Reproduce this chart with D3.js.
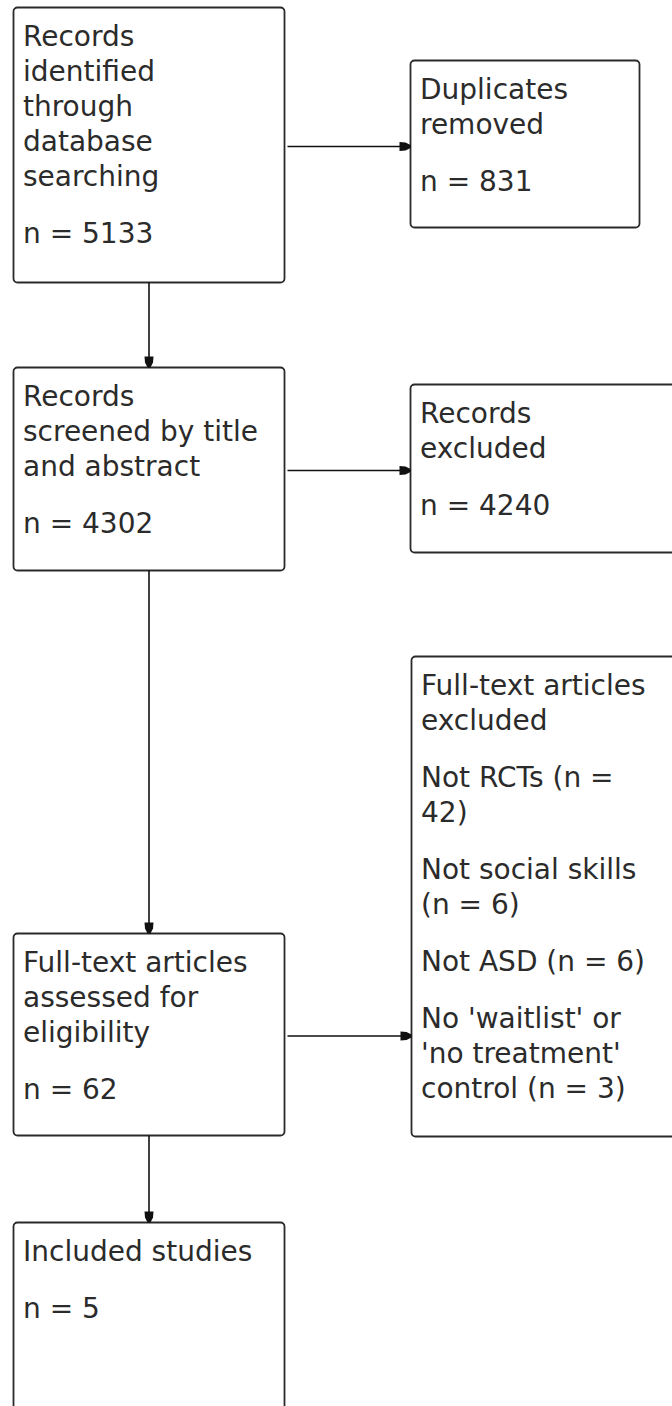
<!DOCTYPE html>
<html>
<head>
<meta charset="utf-8">
<script src="https://cdn.jsdelivr.net/npm/d3@7"></script>
<style>
  html, body { margin: 0; padding: 0; background: #fff; }
  svg { display: block; }
  text { font-family: "DejaVu Sans", Verdana, sans-serif; font-size: 28px; fill: #2b2b2b; }
</style>
</head>
<body>
<script>
// ---- data ----
const stageTitles = [
  "Records identified through database searching",
  "Records screened by title and abstract",
  "Full-text articles assessed for eligibility",
  "Included studies"
];
const stageCounts = [5133, 4302, 62, 5];
const removalTitles = ["Duplicates removed", "Records excluded", "Full-text articles excluded"];
const removalCounts = [831, 4240, null];
const exclusionReasons = ["Not RCTs", "Not social skills", "Not ASD", "No 'waitlist' or 'no treatment' control"];
const exclusionCounts = [42, 6, 6, 3];

// ---- layout ----
const W = 672, H = 1406;
const svg = d3.select("body").append("svg").attr("width", W).attr("height", H);
svg.append("rect").attr("width", W).attr("height", H).attr("fill", "#fff");

const mainX = [13, 284];
const mainY = [[7, 282], [367, 570], [933, 1135], [1222, 1425]];
const sideX0 = [410, 410, 411];
const sideX1 = [639, 700, 700];
const sideY = [[60, 227], [384, 552], [656, 1136]];

const lineStep = 35, paraStep = 57, firstBase = 39, padX = 9, wrapW = 242;

function paragraphsForStage(i) {
  return [stageTitles[i], "n = " + stageCounts[i]];
}
function paragraphsForSide(i) {
  if (removalCounts[i] != null) return [removalTitles[i], "n = " + removalCounts[i]];
  return [removalTitles[i]].concat(exclusionReasons.map((r, k) => r + " (n = " + exclusionCounts[k] + ")"));
}

const mainBoxes = stageTitles.map((t, i) => ({ x0: mainX[0], x1: mainX[1], y0: mainY[i][0], y1: mainY[i][1], paras: paragraphsForStage(i) }));
const sideBoxes = removalTitles.map((t, i) => ({ x0: sideX0[i], x1: sideX1[i], y0: sideY[i][0], y1: sideY[i][1], paras: paragraphsForSide(i) }));
const boxes = mainBoxes.concat(sideBoxes);

const gBoxes = svg.append("g");
gBoxes.selectAll("rect.box").data(boxes).join("rect")
  .attr("class", "box")
  .attr("x", d => d.x0 + 0.5).attr("y", d => d.y0 + 0.5)
  .attr("width", d => d.x1 - d.x0).attr("height", d => d.y1 - d.y0)
  .attr("rx", 4).attr("ry", 4)
  .attr("fill", "#fff").attr("stroke", "#2a2a2a").attr("stroke-width", 1.8);

// measuring wrap
const measure = svg.append("text").attr("x", -1000).attr("y", -1000);
function textW(s) { measure.text(s); return measure.node().getComputedTextLength(); }
function wrap(s) {
  const words = s.split(" ");
  const lines = [];
  let cur = "";
  words.forEach(w => {
    const test = cur ? cur + " " + w : w;
    if (cur && textW(test) > wrapW) { lines.push(cur); cur = w; }
    else cur = test;
  });
  if (cur) lines.push(cur);
  return lines;
}

boxes.forEach(b => {
  let y = b.y0 + firstBase;
  const t = svg.append("g");
  b.paras.forEach((p, pi) => {
    const lines = wrap(p);
    lines.forEach((ln, li) => {
      t.append("text").attr("x", b.x0 + padX + 1).attr("y", y).text(ln);
      if (li < lines.length - 1) y += lineStep;
    });
    y += paraStep;
  });
});
measure.remove();

// ---- arrows ----
const cx = (mainX[0] + mainX[1]) / 2;
const arrows = [];
for (let i = 0; i < mainBoxes.length - 1; i++) {
  arrows.push({ x1: cx, y1: mainBoxes[i].y1, x2: cx, y2: mainBoxes[i + 1].y0 });
}
sideBoxes.forEach((s, i) => {
  const yc = (mainBoxes[i].y0 + mainBoxes[i].y1) / 2 + 1.5;
  arrows.push({ x1: mainX[1] + 3, y1: yc, x2: s.x0, y2: yc });
});

const gA = svg.append("g");
gA.selectAll("line").data(arrows).join("line")
  .attr("x1", d => d.x1 + 0.5).attr("y1", d => d.y1 + 0.5)
  .attr("x2", d => d.x2 + 0.5).attr("y2", d => d.y2 + 0.5)
  .attr("stroke", "#111").attr("stroke-width", 1.6);

const headShape = "M-11,-4.5 L-5,-4 L0,-1.5 L0,1.5 L-5,4 L-11,4.5 Z";
gA.selectAll("path.head").data(arrows).join("path")
  .attr("class", "head")
  .attr("d", headShape)
  .attr("fill", "#111")
  .attr("transform", d => {
    const ang = Math.atan2(d.y2 - d.y1, d.x2 - d.x1) * 180 / Math.PI;
    return `translate(${d.x2 + 0.5},${d.y2 + 0.5}) rotate(${ang})`;
  });
</script>
</body>
</html>
